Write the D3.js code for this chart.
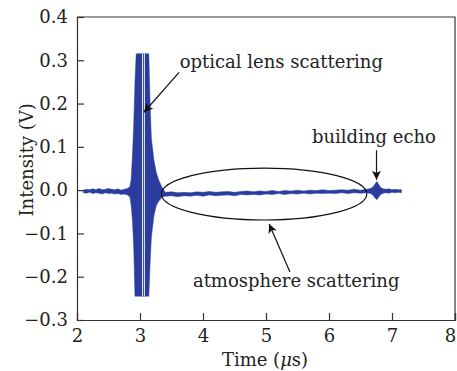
<!DOCTYPE html>
<html>
<head>
<meta charset="utf-8">
<script src="https://cdn.jsdelivr.net/npm/d3@7"></script>
<style>
  body { margin: 0; background: #fff; }
  text { font-family: "DejaVu Serif", "Liberation Serif", serif; fill: #222; }
</style>
</head>
<body>
<svg id="chart" width="457" height="371"></svg>
<script>
// signal envelope: time (us), upper / lower edge (V)
const times = [
  2.10, 2.15, 2.20, 2.25, 2.30, 2.35, 2.40, 2.45, 2.50, 2.55, 2.60, 2.65, 2.70, 2.75, 2.80, 2.84,
  2.86, 2.88, 2.90, 2.92, 2.94, 3.14, 3.16, 3.18, 3.22, 3.26, 3.30, 3.35,
  3.40, 3.50, 3.60, 3.70, 3.80, 3.90, 4.00, 4.10, 4.20, 4.30, 4.40, 4.50, 4.60, 4.70, 4.80, 4.90,
  5.00, 5.10, 5.20, 5.30, 5.40, 5.50, 5.60, 5.70, 5.80, 5.90, 6.00, 6.10, 6.20, 6.30, 6.40, 6.50, 6.60, 6.66,
  6.70, 6.73, 6.76, 6.79, 6.82, 6.86, 6.90, 6.95, 7.00, 7.05, 7.10, 7.15
];
const upper = [
  0.000, 0.002, 0.001, 0.003, 0.001, 0.004, 0.001, 0.002, 0.004, 0.002, 0.001, 0.003, 0.000, 0.002, 0.004, 0.008,
  0.025, 0.080, 0.150, 0.250, 0.315, 0.315, 0.200, 0.120, 0.070, 0.040, 0.022, 0.006,
  -0.005, -0.004, -0.006, -0.005, -0.006, -0.004, -0.005, -0.003, -0.005, -0.004, -0.003, -0.005, -0.003, -0.002, -0.004, -0.002,
  -0.003, -0.001, -0.003, -0.001, -0.002, 0.000, -0.002, 0.000, -0.001, 0.001, -0.001, 0.000, 0.001, 0.000, 0.002, 0.000, 0.002, 0.004,
  0.008, 0.014, 0.020, 0.013, 0.006, 0.003, 0.002, 0.003, 0.001, 0.002, 0.001, 0.001
];
const lower = [
  -0.006, -0.007, -0.005, -0.008, -0.006, -0.007, -0.009, -0.006, -0.008, -0.007, -0.009, -0.008, -0.010, -0.009, -0.011, -0.016,
  -0.035, -0.070, -0.130, -0.245, -0.245, -0.245, -0.170, -0.110, -0.060, -0.035, -0.025, -0.016,
  -0.014, -0.013, -0.015, -0.013, -0.014, -0.012, -0.014, -0.011, -0.013, -0.012, -0.011, -0.013, -0.010, -0.011, -0.010, -0.011,
  -0.009, -0.010, -0.008, -0.010, -0.008, -0.009, -0.007, -0.009, -0.007, -0.008, -0.007, -0.008, -0.006, -0.008, -0.006, -0.007, -0.006, -0.008,
  -0.012, -0.018, -0.022, -0.016, -0.010, -0.007, -0.006, -0.007, -0.005, -0.006, -0.005, -0.006
];
// thin white gaps inside the clipped burst
const gapTimes = [3.04, 3.07];
const gapRange = [0.315, -0.245];

const xTicks = [2, 3, 4, 5, 6, 7, 8];
const yTicks = [-0.3, -0.2, -0.1, 0.0, 0.1, 0.2, 0.3, 0.4];

// ellipse around the atmosphere part: centre (t, V) and radii
const ellipseCenter = [4.97, -0.009];
const ellipseRadii = [1.63, 0.06];

const labels = [
  { text: "optical lens scattering", t: 3.63, v: 0.2815, from: [3.62, 0.272], to: [3.063, 0.18] },
  { text: "building echo", t: 5.73, v: 0.108, from: [6.754, 0.092], to: [6.754, 0.024] },
  { text: "atmosphere scattering", t: 3.84, v: -0.224, from: [5.38, -0.189], to: [5.05, -0.078] }
];

const svg = d3.select("#chart");
const margin = { top: 17, right: 2, bottom: 51, left: 77 };
const width = +svg.attr("width") - margin.left - margin.right;
const height = +svg.attr("height") - margin.top - margin.bottom;
const fontSize = "18px";

const g = svg.append("g").attr("transform", `translate(${margin.left},${margin.top})`);

const x = d3.scaleLinear().domain([2, 8]).range([0, width]);
const y = d3.scaleLinear().domain([-0.3, 0.4]).range([height, 0]);

svg.append("defs").append("marker")
  .attr("id", "arrow")
  .attr("viewBox", "0 0 10 10")
  .attr("refX", 10).attr("refY", 5)
  .attr("markerWidth", 12).attr("markerHeight", 9)
  .attr("markerUnits", "userSpaceOnUse")
  .attr("orient", "auto")
  .append("path")
  .attr("d", "M0,0 L10,5 L0,10 L2.5,5 Z")
  .attr("fill", "#111");

// signal band
const sig = times.map((t, i) => ({ t, hi: upper[i], lo: lower[i] }));
g.append("path")
  .datum(sig)
  .attr("fill", "#2a3d9e")
  .attr("stroke", "#2a3d9e")
  .attr("stroke-width", 0.5)
  .attr("d", d3.area().x(d => x(d.t)).y0(d => y(d.lo)).y1(d => y(d.hi)));

g.selectAll(".gap")
  .data(gapTimes)
  .enter().append("line")
  .attr("class", "gap")
  .attr("x1", d => x(d)).attr("x2", d => x(d))
  .attr("y1", y(gapRange[0])).attr("y2", y(gapRange[1]))
  .attr("stroke", "#e8ecf8")
  .attr("stroke-width", 1);

// ellipse
g.append("ellipse")
  .attr("cx", x(ellipseCenter[0]))
  .attr("cy", y(ellipseCenter[1]))
  .attr("rx", x(ellipseCenter[0] + ellipseRadii[0]) - x(ellipseCenter[0]))
  .attr("ry", y(ellipseCenter[1]) - y(ellipseCenter[1] + ellipseRadii[1]))
  .attr("fill", "none")
  .attr("stroke", "#111")
  .attr("stroke-width", 1.2);

// annotations
g.selectAll(".arrow")
  .data(labels)
  .enter().append("line")
  .attr("class", "arrow")
  .attr("x1", d => x(d.from[0])).attr("y1", d => y(d.from[1]))
  .attr("x2", d => x(d.to[0])).attr("y2", d => y(d.to[1]))
  .attr("stroke", "#111")
  .attr("stroke-width", 1.2)
  .attr("marker-end", "url(#arrow)");

g.selectAll(".note")
  .data(labels)
  .enter().append("text")
  .attr("class", "note")
  .attr("x", d => x(d.t))
  .attr("y", d => y(d.v))
  .style("font-size", fontSize)
  .text(d => d.text);

// axes, ticks pointing inward
const xAxis = g.append("g")
  .attr("transform", `translate(0,${height})`)
  .call(d3.axisBottom(x).tickValues(xTicks).tickSize(-7).tickPadding(9).tickFormat(d3.format("d")));
const yAxis = g.append("g")
  .call(d3.axisLeft(y).tickValues(yTicks).tickSize(-7).tickPadding(9).tickFormat(d3.format(".1f")));

[xAxis, yAxis].forEach(a => {
  a.select(".domain").attr("stroke", "#333").attr("stroke-width", 1.2);
  a.selectAll(".tick line").attr("stroke", "#333").attr("stroke-width", 1.2);
  a.selectAll(".tick text")
    .style("font-family", "DejaVu Serif, serif")
    .style("font-size", fontSize)
    .attr("fill", "#222");
});
// last x label sits at the window edge; keep it inside
xAxis.selectAll(".tick text").filter(d => d === 8).attr("dx", "-5");

// top and right frame
g.append("path")
  .attr("d", `M0,0 H${width} V${height}`)
  .attr("fill", "none")
  .attr("stroke", "#333")
  .attr("stroke-width", 1.2);

// axis titles
const xTitle = svg.append("text")
  .attr("x", margin.left + x(5.0) - 1)
  .attr("y", 366)
  .attr("text-anchor", "middle")
  .style("font-size", fontSize);
xTitle.append("tspan").text("Time (");
xTitle.append("tspan").style("font-style", "italic").text("\u03bc");
xTitle.append("tspan").text("s)");

svg.append("text")
  .attr("transform", `translate(33,${margin.top + y(0.07)}) rotate(-90)`)
  .attr("text-anchor", "middle")
  .style("font-size", fontSize)
  .text("Intensity (V)");
</script>
</body>
</html>
